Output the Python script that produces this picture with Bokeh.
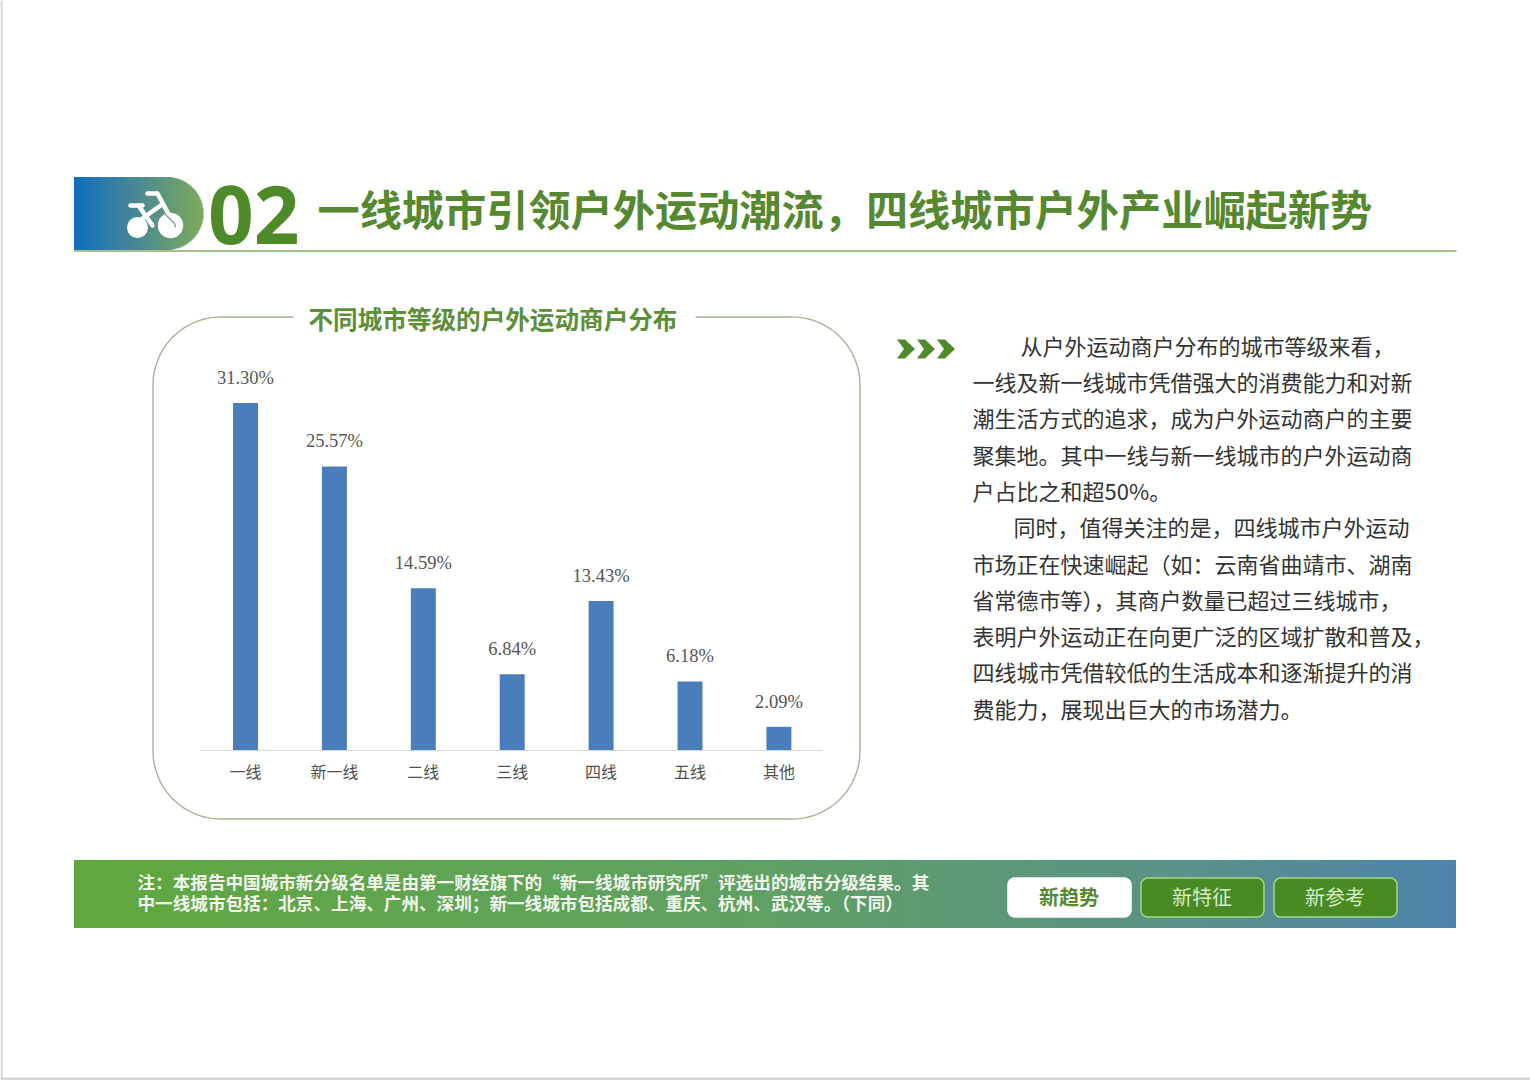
from bokeh.plotting import figure
from bokeh.models import Range1d
from bokeh.core.properties import value
from bokeh.embed import file_html
from bokeh.resources import INLINE
import numpy as np

categories = ["一线", "新一线", "二线", "三线", "四线", "五线", "其他"]
shares = [31.30, 25.57, 14.59, 6.84, 13.43, 6.18, 2.09]
share_labels = ["31.30%", "25.57%", "14.59%", "6.84%", "13.43%", "6.18%", "2.09%"]

title_text = "一线城市引领户外运动潮流，四线城市户外产业崛起新势"
chart_title = "不同城市等级的户外运动商户分布"
body_lines = [
    "从户外运动商户分布的城市等级来看，",
    "一线及新一线城市凭借强大的消费能力和对新",
    "潮生活方式的追求，成为户外运动商户的主要",
    "聚集地。其中一线与新一线城市的户外运动商",
    "户占比之和超50%。",
    "同时，值得关注的是，四线城市户外运动",
    "市场正在快速崛起（如：云南省曲靖市、湖南",
    "省常德市等），其商户数量已超过三线城市，",
    "表明户外运动正在向更广泛的区域扩散和普及，",
    "四线城市凭借较低的生活成本和逐渐提升的消",
    "费能力，展现出巨大的市场潜力。",
]
body_x = [1020, 972, 972, 972, 972, 1013, 972, 972, 972, 972, 972]
body_y = [344.5, 380.5, 416.5, 453.5, 489.5, 525.5, 562.5, 598.5, 634.5, 670.5, 707.5]
note_lines = [
    "注：本报告中国城市新分级名单是由第一财经旗下的“新一线城市研究所”评选出的城市分级结果。其",
    "中一线城市包括：北京、上海、广州、深圳；新一线城市包括成都、重庆、杭州、武汉等。（下同）",
]
buttons = ["新趋势", "新特征", "新参考"]

CJK = value("Noto Sans CJK SC")
W, H = 1530, 1080
p = figure(width=W, height=H, x_range=Range1d(0, W), y_range=Range1d(H, 0),
           toolbar_location=None, output_backend="svg", min_border=0,
           outline_line_color=None, background_fill_color="white", border_fill_color="white")
p.axis.visible = False
p.grid.visible = False

# chart scales: category index and percent, mapped onto the page frame
X0, STEP = 245.0, 88.9
BASE, PER = 749.5, 11.09
p.extra_x_ranges["cat"] = Range1d((0 - X0) / STEP, (W - X0) / STEP)
p.extra_y_ranges["pct"] = Range1d((BASE - H) / PER, BASE / PER)


def mix(stops, t):
    t = min(max(t, 0), 1)
    for (a, ca), (b, cb) in zip(stops, stops[1:]):
        if t <= b:
            f = (t - a) / (b - a)
            return "#%02x%02x%02x" % tuple(int(round(ca[i] + (cb[i] - ca[i]) * f)) for i in range(3))
    return "#%02x%02x%02x" % stops[-1][1]


def rounded(x0, y0, x1, y1, r, n=24):
    a = np.linspace(0, np.pi / 2, n)
    xs = np.concatenate([x1 - r + r * np.sin(a), x1 - r + r * np.cos(a), x0 + r - r * np.sin(a), x0 + r - r * np.cos(a)])
    ys = np.concatenate([y0 + r - r * np.cos(a), y1 - r + r * np.sin(a), y1 - r + r * np.cos(a), y0 + r - r * np.sin(a)])
    return xs, ys


# page edge
p.quad(left=[0], right=[2], top=[0], bottom=[H], fill_color="#d4d4d4", line_color=None)
p.quad(left=[0], right=[W], top=[1077], bottom=[H], fill_color="#d4d4d4", line_color=None)

# header pill with gradient
hx0, hx1, hy0, hy1 = 73.5, 202.5, 176.5, 249.5
hr = (hy1 - hy0) / 2
hstops = [(0, (15, 110, 190)), (0.45, (70, 135, 150)), (1, (125, 170, 90))]
hl, hr_, ht, hb, hc = [], [], [], [], []
for x in np.arange(hx0, hx1, 1.0):
    cx = hx1 - hr
    dy = hr if x + .5 <= cx else np.sqrt(max(hr ** 2 - (x + .5 - cx) ** 2, 0))
    hl.append(x); hr_.append(x + 1.6); ht.append(hy0 + hr - dy); hb.append(hy0 + hr + dy)
    hc.append(mix(hstops, (x - hx0) / (hx1 - hx0)))
p.quad(left=hl, right=hr_, top=ht, bottom=hb, fill_color=hc, line_color=None)

# bicycle icon
p.circle(x=[137, 170], y=[227, 225], radius=[10.5, 12.7], fill_color="white", line_color=None)
p.multi_line(xs=[[147, 157, 172], [160, 142], [130, 142], [138, 152]],
             ys=[[193, 193, 221], [205, 218], [205, 205], [205, 225]],
             line_color="white", line_width=4.5, line_cap="round", line_join="round")
p.line([163, 174, 175], [212, 223, 227], line_color="#6f9f86", line_width=1.2)
p.line([74, 1456], [250.5, 250.5], line_color="#8aa96a", line_width=1.5)

p.text([207.5], [214], text=["02"], text_font=value("Open Sans"), text_font_size="80px", text_font_style="bold",
       text_color="#4f8a28", text_baseline="middle")
p.text([317], [207], text=[title_text], text_font=CJK, text_font_size="42.2px", text_font_style="bold",
       text_color="#55882f", text_baseline="middle")

# chart frame with a gap for its title
bx, by = rounded(152.5, 316.5, 859.5, 818.5, 68)
rx = np.concatenate([[695], bx, [293]])
ry = np.concatenate([[316.5], by, [316.5]])
p.line(rx, ry, line_color="#a3b596", line_width=1.4)
p.text([308], [317], text=[chart_title], text_font=CJK, text_font_size="24.6px", text_font_style="bold",
       text_color="#5c8f38", text_baseline="middle")

# bars
idx = list(range(len(categories)))
p.vbar(x=idx, top=shares, bottom=0, width=25 / STEP, x_range_name="cat", y_range_name="pct",
       fill_color="#4a7ebb", line_color=None)
p.text(idx, shares, text=share_labels, x_range_name="cat", y_range_name="pct", y_offset=-25,
       text_font=value("Liberation Serif"), text_font_size="18.5px", text_color="#555555",
       text_align="center", text_baseline="middle")
p.line([200, 822], [750, 750], line_color="#d9d9d9", line_width=1.2)
p.text(idx, [0] * len(idx), text=categories, x_range_name="cat", y_range_name="pct", y_offset=21,
       text_font=CJK, text_font_size="16px", text_color="#505050",
       text_align="center", text_baseline="middle")

# chevrons
cxs, cys = [], []
for x in (896.5, 916.5, 936.5):
    cxs.append([x, x + 8, x + 18, x + 8, x, x + 7])
    cys.append([339, 339, 348.5, 358, 358, 348.5])
p.patches(cxs, cys, fill_color="#4f8a2a", line_color=None)

# body
p.text(body_x, body_y, text=body_lines, text_font=CJK, text_font_size="22px", text_color="#333333",
       text_baseline="middle")

# footer band
fx0, fx1 = 73.5, 1455.5
fstops = [(0, (96, 168, 62)), (0.5, (95, 160, 100)), (0.8, (90, 145, 135)), (1, (78, 130, 172))]
fx = np.arange(fx0, fx1, 2.0)
p.quad(left=fx, right=np.minimum(fx + 3, fx1), top=[859.5] * len(fx), bottom=[927.5] * len(fx),
       fill_color=[mix(fstops, (x - fx0) / (fx1 - fx0)) for x in fx], line_color=None)
p.text([137, 137], [881, 902], text=note_lines, text_font=CJK, text_font_size="17.6px", text_font_style="bold",
       text_color="#f2f7ec", text_baseline="middle")

# buttons
for x0, label, active in zip((1007.5, 1140.5, 1273.5), buttons, (True, False, False)):
    xs, ys = rounded(x0, 877.5, x0 + 123, 916.5, 7)
    p.patch(xs, ys, fill_color="white" if active else "#4a8a22",
            line_color="white" if active else "#a4d88a", line_width=1.5)
    p.text([x0 + 61], [895.5], text=[label], text_font=CJK, text_font_size="20px",
           text_font_style="bold" if active else "normal",
           text_color="#55882f" if active else "#d5ecc8", text_align="center", text_baseline="middle")

open("out.html", "w").write(file_html(p, INLINE))
